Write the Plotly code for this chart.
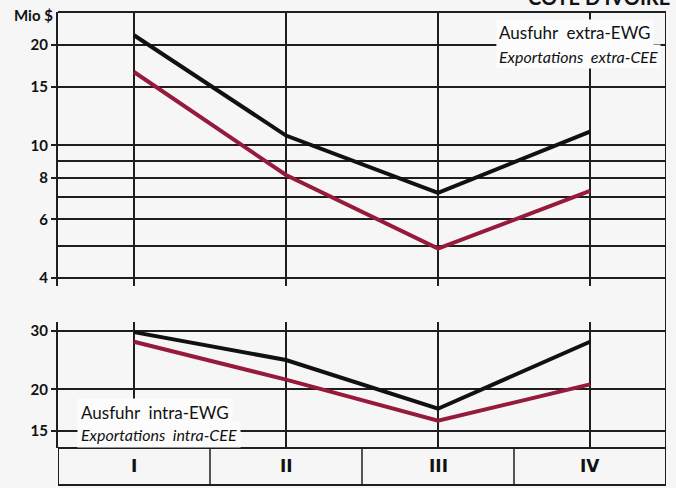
import plotly.graph_objects as go

# ---- data ----
quarters = ["I", "II", "III", "IV"]
extra_black = [21.4, 10.7, 7.2, 11.0]
extra_red = [16.6, 8.15, 4.9, 7.3]
intra_black = [29.7, 24.5, 17.5, 27.8]
intra_red = [27.8, 21.4, 16.1, 20.7]

top_ticks = [4, 6, 8, 10, 15, 20]
top_minor = [5, 7, 9]
bot_ticks = [15, 20, 30]

title_text = "COTE D'IVOIRE"
unit_text = "Mio $"
top_leg = ["Ausfuhr  extra-EWG", "Exportations  extra-CEE"]
bot_leg = ["Ausfuhr  intra-EWG", "Exportations  intra-CEE"]

# ---- styling ----
BLACK = "#111111"
RED = "#961a3c"
GRID = "#1e1e1e"
BG = "#f6f6f6"
FONT = "Lato"
W, H = 676, 488
ML, MR, MT, MB = 58, 10, 12, 3
PH = H - MT - MB
PW = W - ML - MR


def py(px):
    return (H - MB - px) / PH


def pxx(px):
    return (px - ML) / PW


x_pos = list(range(1, len(quarters) + 1))
x_range = [0.5, len(quarters) + 0.5]

fig = go.Figure()
fig.add_trace(go.Scatter(x=x_pos, y=extra_black, mode="lines", line=dict(color=BLACK, width=4), xaxis="x", yaxis="y"))
fig.add_trace(go.Scatter(x=x_pos, y=extra_red, mode="lines", line=dict(color=RED, width=4), xaxis="x", yaxis="y"))
fig.add_trace(go.Scatter(x=x_pos, y=intra_black, mode="lines", line=dict(color=BLACK, width=4), xaxis="x2", yaxis="y2"))
fig.add_trace(go.Scatter(x=x_pos, y=intra_red, mode="lines", line=dict(color=RED, width=4), xaxis="x2", yaxis="y2"))

xcommon = dict(range=x_range, tickvals=x_pos, showticklabels=False, ticks="",
               showgrid=True, gridcolor=GRID, gridwidth=1.5, zeroline=False, showline=False)
tickfont = dict(family=FONT, size=15, color="#111", weight=700)

fig.update_layout(
    width=W, height=H, showlegend=False,
    paper_bgcolor=BG, plot_bgcolor=BG,
    margin=dict(l=ML, r=MR, t=MT, b=MB),
    xaxis=dict(domain=[0, 1], anchor="y", **xcommon),
    xaxis2=dict(domain=[0, 1], anchor="y2", **xcommon),
    yaxis=dict(domain=[py(286), 1], type="log", range=[0.5781, 1.4001],
               tickvals=top_ticks, ticktext=[str(v) for v in top_ticks],
               ticks="outside", ticklen=5, tickwidth=1.5, tickcolor=GRID,
               showgrid=True, gridcolor=GRID, gridwidth=1.5,
               minor=dict(tickvals=top_minor, showgrid=True, gridcolor=GRID, gridwidth=1.5, ticks=""),
               showline=True, linecolor=GRID, linewidth=2, zeroline=False,
               tickfont=tickfont, anchor="x"),
    yaxis2=dict(domain=[py(448), py(322)], type="log", range=[1.1252, 1.5032],
                tickvals=bot_ticks, ticktext=[str(v) for v in bot_ticks],
                ticks="outside", ticklen=5, tickwidth=1.5, tickcolor=GRID,
                showgrid=True, gridcolor=GRID, gridwidth=1.5,
                showline=True, linecolor=GRID, linewidth=2, zeroline=False,
                tickfont=tickfont, anchor="x2"),
)

shapes = []
shapes.append(dict(type="line", xref="x", yref="y domain", x0=x_range[0], x1=x_range[1], y0=1, y1=1,
                   line=dict(color=GRID, width=2)))
shapes.append(dict(type="line", xref="x", yref="paper", x0=x_range[1], x1=x_range[1], y0=0, y1=1,
                   line=dict(color=GRID, width=2)))
shapes.append(dict(type="rect", xref="x", yref="paper", x0=x_range[0], x1=x_range[1], y0=0, y1=py(448),
                   line=dict(color=GRID, width=2), fillcolor="rgba(0,0,0,0)"))
for xp in x_pos[:-1]:
    shapes.append(dict(type="line", xref="x", yref="paper", x0=xp + 0.5, x1=xp + 0.5, y0=0, y1=py(448),
                       line=dict(color=GRID, width=1.5)))
fig.update_layout(shapes=shapes)

ann = []
for xp, q in zip(x_pos, quarters):
    ann.append(dict(x=xp, y=py(466), xref="x", yref="paper", text=q, showarrow=False,
                    xanchor="center", yanchor="middle",
                    font=dict(family="DejaVu Sans", size=17, color="#111", weight=700)))
ann.append(dict(x=pxx(55), y=py(15), xref="paper", yref="paper", text=unit_text, showarrow=False,
                xanchor="right", yanchor="middle", font=dict(family=FONT, size=15, color="#111", weight=700)))
ann.append(dict(x=pxx(672), y=py(-3), xref="paper", yref="paper", text=title_text,
                showarrow=False, xanchor="right", yanchor="middle",
                font=dict(family=FONT, size=20, color="#111", weight=700)))
ann.append(dict(x=pxx(496), y=py(33), xref="paper", yref="paper", text=top_leg[0],
                showarrow=False, xanchor="left", yanchor="middle", bgcolor="#fcfcfc", borderpad=2,
                font=dict(family=FONT, size=17, color="#111")))
ann.append(dict(x=pxx(496), y=py(57), xref="paper", yref="paper", text="<i>" + top_leg[1] + "</i>",
                showarrow=False, xanchor="left", yanchor="middle", bgcolor="#fcfcfc", borderpad=2,
                font=dict(family=FONT, size=16, color="#111")))
ann.append(dict(x=pxx(77), y=py(412), xref="paper", yref="paper", text=bot_leg[0],
                showarrow=False, xanchor="left", yanchor="middle", bgcolor="#fcfcfc", borderpad=3,
                font=dict(family=FONT, size=17, color="#111")))
ann.append(dict(x=pxx(77), y=py(434), xref="paper", yref="paper", text="<i>" + bot_leg[1] + "</i>",
                showarrow=False, xanchor="left", yanchor="middle", bgcolor="#fcfcfc", borderpad=3,
                font=dict(family=FONT, size=16, color="#111")))
fig.update_layout(annotations=ann)

fig.write_html("out.html", config={"displayModeBar": False},
               post_script="document.body.style.margin='0';document.body.style.background='%s';" % BG)
